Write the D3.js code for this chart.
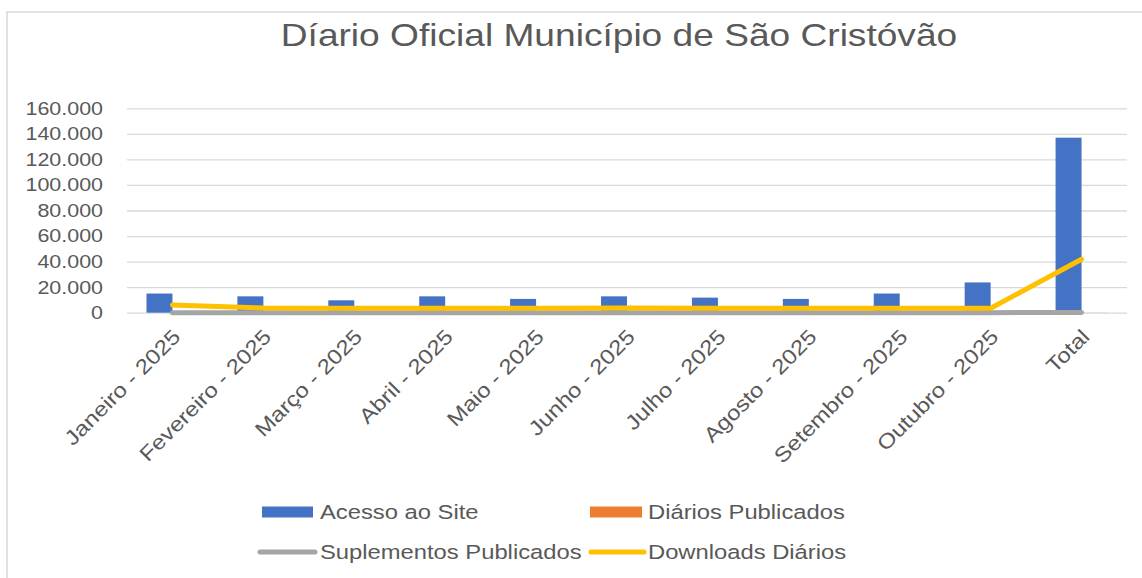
<!DOCTYPE html>
<html>
<head>
<meta charset="utf-8">
<script src="https://cdn.jsdelivr.net/npm/d3@7"></script>
<style>
  html, body { margin: 0; padding: 0; background: #fff; }
  text { font-family: "Liberation Sans", Arial, sans-serif; fill: #595959; }
</style>
</head>
<body>
<div id="container"></div>
<script>
/* DATA */
const categories = ["Janeiro - 2025", "Fevereiro - 2025", "Março - 2025", "Abril - 2025", "Maio - 2025",
  "Junho - 2025", "Julho - 2025", "Agosto - 2025", "Setembro - 2025", "Outubro - 2025", "Total"];
const acessoSite = [15000, 12800, 9700, 12800, 10800, 12800, 11800, 10800, 15000, 23700, 137000];
const diariosPublicados = [9, 8, 10, 9, 8, 9, 10, 8, 9, 9, 89];
const suplementosPublicados = [20, 18, 22, 19, 21, 20, 23, 19, 20, 22, 204];
const downloadsDiarios = [6000, 3700, 3500, 3400, 3500, 3600, 3500, 3400, 3500, 3500, 41800];
const yTicks = [0, 20000, 40000, 60000, 80000, 100000, 120000, 140000, 160000];
const title = "Díario Oficial Município de São Cristóvão";
const barSeries = ["Acesso ao Site", "Diários Publicados"];
const lineSeries = ["Suplementos Publicados", "Downloads Diários"];

/* CONSTANTS AND GLOBALS */
// the picture is a little wider than tall text would be, so draw in a squeezed box and stretch
const stretch = 1.16;
const width = 1142, height = 578;
const lw = width / stretch;
const px = v => v / stretch; // screen x -> drawing x

const plot = { left: px(127), right: px(1127), top: 108.3, bottom: 312.7 };
const colors = { bar: ["#4472C4", "#ED7D31"], line: ["#A5A5A5", "#FFC000"] };

const svg = d3.select("#container")
  .append("svg")
  .attr("width", width)
  .attr("height", height)
  .attr("viewBox", `0 0 ${lw} ${height}`)
  .attr("preserveAspectRatio", "none");

// chart border
svg.append("rect")
  .attr("x", px(7)).attr("y", 12)
  .attr("width", lw).attr("height", height)
  .attr("fill", "none")
  .attr("stroke", "#D9D9D9")
  .attr("stroke-width", 1.5)
  .attr("vector-effect", "non-scaling-stroke");

// SCALES
const x = d3.scaleBand()
  .domain(categories)
  .range([plot.left, plot.right])
  .paddingInner(1.5 / 3.5)
  .paddingOuter(0.75 / 3.5);

const xSub = d3.scaleBand()
  .domain(barSeries)
  .range([0, x.bandwidth()]);

const y = d3.scaleLinear()
  .domain([0, 160000])
  .range([plot.bottom, plot.top]);

const ptBR = d3.formatLocale({ decimal: ",", thousands: ".", grouping: [3], currency: ["R$", ""] });
const fmt = ptBR.format(",");

// TITLE
svg.append("text")
  .attr("x", px(619))
  .attr("y", 46)
  .attr("text-anchor", "middle")
  .attr("font-size", 32)
  .text(title);

// GRIDLINES + Y AXIS
const yAxis = svg.append("g")
  .attr("transform", `translate(${plot.left},0)`)
  .call(d3.axisLeft(y).tickValues(yTicks).tickFormat(fmt).tickSize(-(plot.right - plot.left)).tickPadding(px(24)));
yAxis.select(".domain").remove();
yAxis.selectAll(".tick line")
  .attr("stroke", "#D9D9D9")
  .attr("stroke-width", 1.3)
  .attr("vector-effect", "non-scaling-stroke");
yAxis.selectAll(".tick text")
  .attr("font-size", 18.5)
  .attr("fill", "#595959")
  .style("font-family", "'Liberation Sans', Arial, sans-serif");

// BARS
const barData = categories.map((c, i) => ({ c, vals: [acessoSite[i], diariosPublicados[i]] }));
svg.selectAll("g.cluster")
  .data(barData)
  .join("g")
  .attr("class", "cluster")
  .attr("transform", d => `translate(${x(d.c)},0)`)
  .selectAll("rect")
  .data(d => d.vals.map((v, j) => ({ s: barSeries[j], v, j })))
  .join("rect")
  .attr("x", d => xSub(d.s))
  .attr("width", xSub.bandwidth())
  .attr("y", d => y(d.v))
  .attr("height", d => y(0) - y(d.v))
  .attr("fill", d => colors.bar[d.j]);

// LINES
const lineGen = d3.line()
  .x((d, i) => x(categories[i]) + x.bandwidth() / 2)
  .y(d => y(d));

svg.selectAll("path.series")
  .data([suplementosPublicados, downloadsDiarios])
  .join("path")
  .attr("class", "series")
  .attr("d", d => lineGen(d))
  .attr("fill", "none")
  .attr("stroke", (d, i) => colors.line[i])
  .attr("stroke-width", 5)
  .attr("stroke-linecap", "round")
  .attr("stroke-linejoin", "round")
  .attr("vector-effect", "non-scaling-stroke");

// CATEGORY LABELS (undo the stretch, turn 45deg on screen, widen along the text)
svg.selectAll("text.cat")
  .data(categories)
  .join("text")
  .attr("class", "cat")
  .attr("font-size", 20.7)
  .attr("text-anchor", "end")
  .attr("transform", d => `translate(${x(d) + x.bandwidth() / 2 + px(4)},333) scale(${1 / stretch},1) rotate(-45) scale(${stretch},1)`)
  .attr("dy", "0.35em")
  .text(d => d);

// LEGEND
const legendItems = [
  { name: barSeries[0], type: "rect", color: colors.bar[0], x0: 262, x1: 313, tx: 320, y: 512 },
  { name: barSeries[1], type: "rect", color: colors.bar[1], x0: 590, x1: 642, tx: 648, y: 512 },
  { name: lineSeries[0], type: "line", color: colors.line[0], x0: 260, x1: 315, tx: 320, y: 552 },
  { name: lineSeries[1], type: "line", color: colors.line[1], x0: 591, x1: 644, tx: 648, y: 552 }
];
const legend = svg.selectAll("g.legend")
  .data(legendItems)
  .join("g")
  .attr("class", "legend");

legend.filter(d => d.type === "rect").append("rect")
  .attr("x", d => px(d.x0))
  .attr("width", d => px(d.x1 - d.x0))
  .attr("y", d => d.y - 5.5)
  .attr("height", 11)
  .attr("fill", d => d.color);

legend.filter(d => d.type === "line").append("line")
  .attr("x1", d => px(d.x0))
  .attr("x2", d => px(d.x1))
  .attr("y1", d => d.y)
  .attr("y2", d => d.y)
  .attr("stroke", d => d.color)
  .attr("stroke-width", 5)
  .attr("stroke-linecap", "round")
  .attr("vector-effect", "non-scaling-stroke");

legend.append("text")
  .attr("x", d => px(d.tx))
  .attr("y", d => d.y)
  .attr("dy", "0.35em")
  .attr("font-size", 20.5)
  .text(d => d.name);
</script>
</body>
</html>
